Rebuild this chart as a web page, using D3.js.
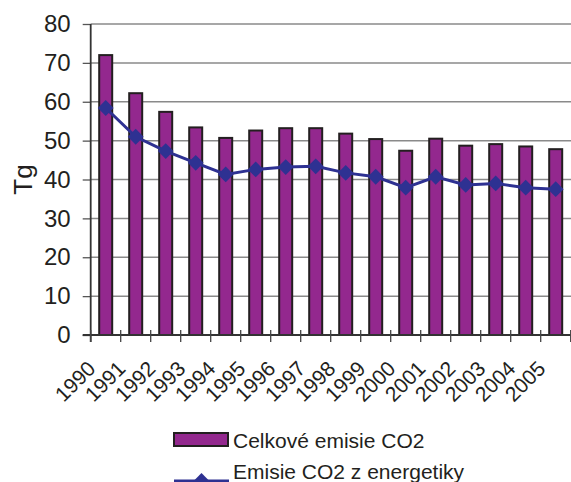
<!DOCTYPE html>
<html>
<head>
<meta charset="utf-8">
<script src="https://cdn.jsdelivr.net/npm/d3@7"></script>
<style>
  body { margin: 0; background: #fff; }
  svg { display: block; font-family: "Liberation Sans", Arial, sans-serif; }
  text { fill: #231f20; }
</style>
</head>
<body>
<div id="chart"></div>
<script>
// data (Tg)
const years = ["1990", "1991", "1992", "1993", "1994", "1995", "1996", "1997",
  "1998", "1999", "2000", "2001", "2002", "2003", "2004", "2005"];
const celkove = [72.0, 62.2, 57.4, 53.4, 50.7, 52.6, 53.2, 53.2,
  51.8, 50.4, 47.4, 50.5, 48.7, 49.1, 48.5, 47.8];
const energetika = [58.4, 51.0, 47.3, 44.3, 41.3, 42.6, 43.2, 43.4,
  41.7, 40.7, 37.9, 40.7, 38.6, 39.0, 37.9, 37.5];
const yTicks = [0, 10, 20, 30, 40, 50, 60, 70, 80];
const seriesNames = ["Celkové emisie CO2", "Emisie CO2 z energetiky"];

const W = 571, H = 482;
const margin = { top: 24, left: 90.7, bottom: 147, right: 0 };
const width = 480, height = 311;
const purple = "#93288e", navy = "#2e3192", dark = "#231f20";

const svg = d3.select("#chart").append("svg")
  .attr("width", W).attr("height", H);

const g = svg.append("g")
  .attr("transform", `translate(${margin.left},${margin.top})`);

const x = d3.scaleBand().domain(years).range([0, width]).padding(0);
const y = d3.scaleLinear().domain([0, 80]).range([height, 0]);

// gridlines
g.selectAll(".grid").data(yTicks.slice(1)).enter().append("line")
  .attr("x1", 0).attr("x2", width + 1)
  .attr("y1", d => y(d)).attr("y2", d => y(d))
  .attr("stroke", "#8a8a8a").attr("stroke-width", 1.5);

// y axis
const yAxis = g.append("g")
  .call(d3.axisLeft(y).tickValues(yTicks).tickSize(8).tickPadding(12));
yAxis.select(".domain").remove();
yAxis.selectAll(".tick line").attr("stroke", "#555").attr("stroke-width", 1.3);
yAxis.selectAll(".tick text")
  .attr("font-size", 24).attr("fill", dark)
  .attr("font-family", "Liberation Sans, Arial, sans-serif");

// bars
const barW = 13;
g.selectAll(".bar").data(celkove).enter().append("rect")
  .attr("class", "bar")
  .attr("x", (d, i) => x(years[i]) + x.bandwidth() / 2 - barW / 2)
  .attr("y", d => y(d))
  .attr("width", barW)
  .attr("height", d => height - y(d))
  .attr("fill", purple)
  .attr("stroke", dark).attr("stroke-width", 2);

// axis lines
g.append("line").attr("x1", 0).attr("x2", 0).attr("y1", 0).attr("y2", height + 7)
  .attr("stroke", "#333").attr("stroke-width", 1.8);
g.append("line").attr("x1", -8).attr("x2", width).attr("y1", height).attr("y2", height)
  .attr("stroke", "#333").attr("stroke-width", 1.8);

// x ticks on category boundaries
const bounds = years.map(d => x(d)).concat([width]);
g.selectAll(".xtick").data(bounds).enter().append("line")
  .attr("x1", d => d).attr("x2", d => d)
  .attr("y1", height - 5).attr("y2", height + 7)
  .attr("stroke", "#444").attr("stroke-width", 1.3);

// rotated year labels
g.selectAll(".xlabel").data(years).enter().append("text")
  .attr("transform", d => `translate(${x(d) + x.bandwidth() / 2 - 9},${height + 35}) rotate(-45)`)
  .attr("text-anchor", "end")
  .attr("font-size", 21)
  .text(d => d);

// energy line
const line = d3.line()
  .x((d, i) => x(years[i]) + x.bandwidth() / 2)
  .y(d => y(d));
g.append("path").datum(energetika)
  .attr("d", line)
  .attr("fill", "none").attr("stroke", navy).attr("stroke-width", 3);

const diamond = d3.symbol().type(d3.symbolSquare).size(125);
g.selectAll(".marker").data(energetika).enter().append("path")
  .attr("d", diamond)
  .attr("transform", (d, i) => `translate(${x(years[i]) + x.bandwidth() / 2},${y(d)}) rotate(45)`)
  .attr("fill", navy);

// axis title
svg.append("text")
  .attr("transform", `translate(32,${margin.top + height / 2}) rotate(-90)`)
  .attr("text-anchor", "middle")
  .attr("font-size", 26)
  .text("Tg");

// legend
const leg = svg.append("g");
leg.append("rect")
  .attr("x", 174).attr("y", 433).attr("width", 54).attr("height", 13)
  .attr("fill", purple).attr("stroke", dark).attr("stroke-width", 2);
leg.append("text").attr("x", 233).attr("y", 447.5)
  .attr("font-size", 21).text(seriesNames[0]);
leg.append("line").attr("x1", 174).attr("x2", 229).attr("y1", 481).attr("y2", 481)
  .attr("stroke", navy).attr("stroke-width", 3);
leg.append("path").attr("d", diamond)
  .attr("transform", "translate(201.5,481) rotate(45)").attr("fill", navy);
leg.append("text").attr("x", 233).attr("y", 478.5)
  .attr("font-size", 21).text(seriesNames[1]);
</script>
</body>
</html>
